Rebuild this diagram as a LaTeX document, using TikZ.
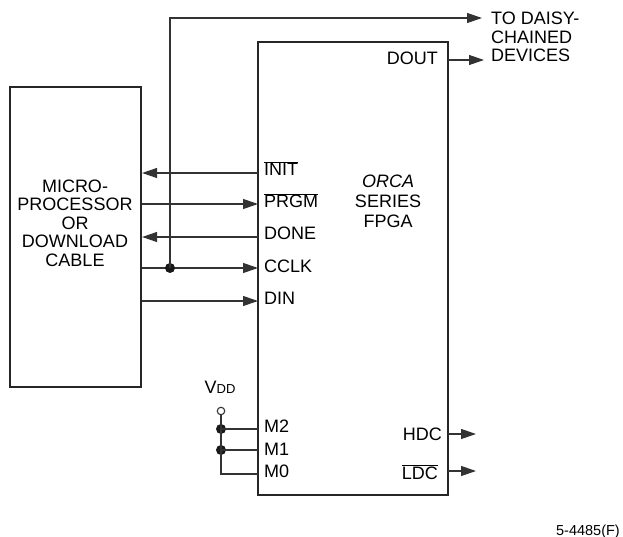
\documentclass[tikz,border=0pt]{standalone}
\usepackage{fontspec}
\setmainfont{Liberation Sans}
\usetikzlibrary{arrows.meta,positioning,calc}
\newcommand{\barsig}[1]{$\overline{\mbox{#1}}$}
\newcommand{\lblfont}{\fontsize{18}{18.5}\selectfont}

\begin{document}
\begin{tikzpicture}[x=1pt, y=-1pt,
  block/.style={draw=black!85, line width=2.2pt, inner sep=0pt},
  wire/.style={draw=black!80, line width=1.2pt},
  sig/.style={wire, -{Triangle[length=15pt, width=10pt]}},
  pin/.style={font=\lblfont, inner sep=0pt},
  title/.style={font=\lblfont, align=center, inner sep=0pt},
  dot/.style={circle, fill=black!90, inner sep=0pt, minimum size=10pt},
  opendot/.style={circle, draw=black!80, fill=white, line width=1.1pt, inner sep=0pt, minimum size=7.5pt}]
\useasboundingbox (0,0) rectangle (623,537);
\node[block, minimum width=131pt, minimum height=300pt] (host) at (75.5,237) {};
\node[block, minimum width=190pt, minimum height=453pt] (fpga) at (353,268.5) {};
\node[title] (hostlbl) at (75,223) {MICRO-\\PROCESSOR\\OR\\DOWNLOAD\\CABLE};
\node[title] (fpgalbl) at (388,201) {\textit{ORCA}\\[1.5pt]SERIES\\[1.5pt]FPGA};
% left side pins
\foreach \n/\t/\y/\b in {init/{\barsig{INIT}}/173/176, prgm/{\barsig{PRGM}}/204/208, done/DONE/237/240, cclk/CCLK/268/272, din/DIN/301/304, mtwo/M2/429/432, mone/M1/450/455, mzero/M0/474/477}
  { \coordinate (\n) at (258,\y); \node[pin, anchor=base west] (\n lbl) at (264,\b) {\t}; }
% right side pins
\foreach \n/\t/\y/\b/\x/\e in {dout/DOUT/60/65/438/484, hdc/HDC/434/440/442/476, ldc/{\barsig{LDC}}/471/479/438/476}
  { \coordinate (\n) at (448,\y); \coordinate (\n end) at (\e,\y); \node[pin, anchor=base east] (\n lbl) at (\x,\b) {\t}; \draw[sig] (\n) -- (\n end); }
\draw[sig] (init) -- (init -| host.east);
\draw[sig] (host.east |- prgm) -- (prgm);
\draw[sig] (done) -- (done -| host.east);
\draw[sig] (host.east |- cclk) -- (cclk);
\draw[sig] (host.east |- din) -- (din);
% clock out to the chain
\node[dot] (clkdot) at (170,268) {};
\coordinate (chain) at (482,18);
\draw[sig] (clkdot.center) |- (chain);
\node[pin, align=left, anchor=north west] (chainlbl) at (491,12) {TO DAISY-\\CHAINED\\DEVICES};
% mode pins
\node[opendot] (vdd) at (221,411) {};
\node[dot] (mtwodot) at (221,429) {};
\node[dot] (monedot) at (221,450) {};
\draw[wire] (vdd) -- (mtwodot.center) -- (monedot.center) |- (mzero);
\draw[wire] (mtwodot.center) -- (mtwo);
\draw[wire] (monedot.center) -- (mone);
\node[pin, anchor=base] (vddlbl) at (220,393) {V{\fontsize{13}{14}\selectfont DD}};
\node[pin, anchor=base east, font=\fontsize{14.5}{15}\selectfont] (figno) at (620,535) {5-4485(F)};
\end{tikzpicture}
\end{document}
